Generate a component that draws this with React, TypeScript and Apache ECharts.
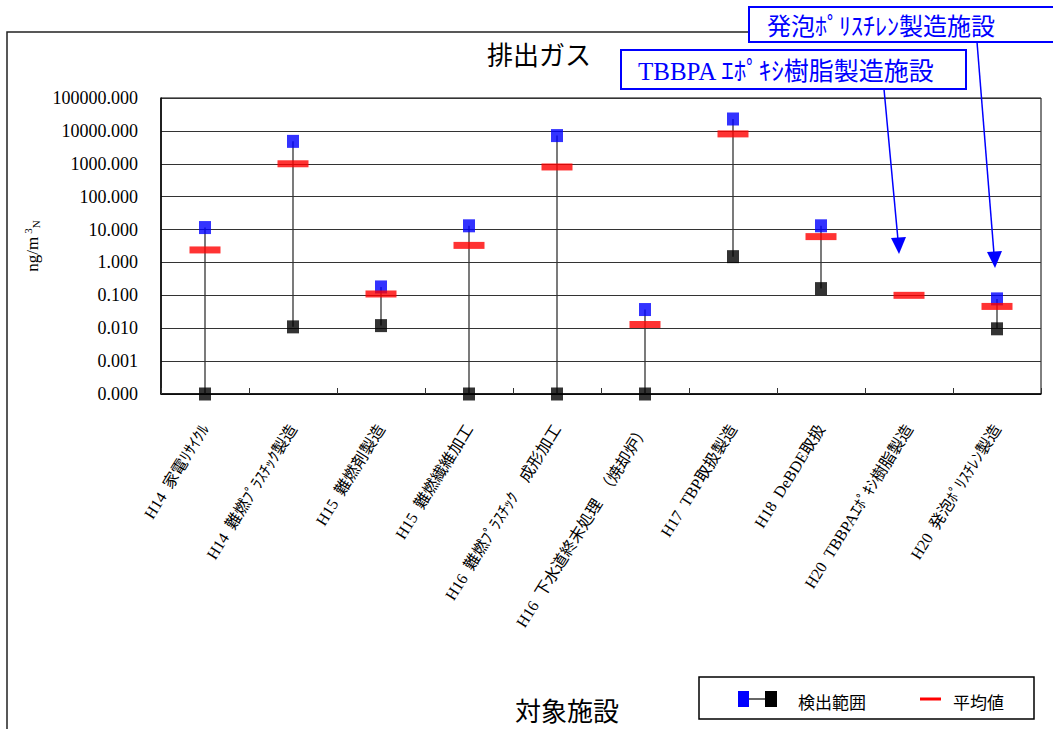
import React, { useEffect, useRef } from "react";
import * as echarts from "echarts";

// Facilities (x-axis categories)
const categories = [
  "H14\u2002家電ﾘｻｲｸﾙ",
  "H14\u2002難燃ﾌﾟﾗｽﾁｯｸ製造",
  "H15\u2002難燃剤製造",
  "H15\u2002難燃繊維加工",
  "H16\u2002難燃ﾌﾟﾗｽﾁｯｸ\u3000成形加工",
  "H16\u2002下水道終末処理\u3000（焼却炉）",
  "H17\u2002TBP取扱製造",
  "H18\u2002DeBDE取扱",
  "H20\u2002TBBPAｴﾎﾟｷｼ樹脂製造",
  "H20\u2002発泡ﾎﾟﾘｽﾁﾚﾝ製造",
];

// Exhaust gas concentrations, ng/m3N (null = no range reported)
const maxValues = [11.5, 4800, 0.18, 13, 7200, 0.037, 23000, 13, null, 0.078];
const meanValues = [2.4, 1000, 0.11, 3.3, 800, 0.013, 8100, 6.1, 0.1, 0.046];
const minValues = [0, 0.011, 0.012, 0, 0, 0, 1.5, 0.16, null, 0.0096];

// Log axis range; values of 0 sit on the axis floor
const Y_MIN = 0.0001;
const Y_MAX = 100000;

const TITLE = "排出ガス";
const X_NAME = "対象施設";
const LEGEND_RANGE = "検出範囲";
const LEGEND_MEAN = "平均値";
const NOTE_FOAM = "発泡ﾎﾟﾘｽﾁﾚﾝ製造施設";
const NOTE_TBBPA = "TBBPA ｴﾎﾟｷｼ樹脂製造施設";

const SERIF = "'Liberation Serif', 'Noto Sans CJK JP', serif";
const GOTHIC = "'Noto Sans CJK JP', sans-serif";
const BLUE = "#0000FF";

const floorValue = (v: number) => Math.max(v, Y_MIN);

export default function App() {
  const ref = useRef<HTMLDivElement>(null);

  useEffect(() => {
    if (!ref.current) return;
    const chart = echarts.init(ref.current, null, { renderer: "svg" });

    const rangeData = categories
      .map((_, i) =>
        minValues[i] == null || maxValues[i] == null
          ? null
          : [i, floorValue(minValues[i] as number), maxValues[i] as number]
      )
      .filter((d) => d !== null);
    const maxData = maxValues
      .map((v, i) => (v == null ? null : [i, v]))
      .filter((d) => d !== null);
    const minData = minValues
      .map((v, i) => (v == null ? null : [i, floorValue(v)]))
      .filter((d) => d !== null);
    const meanData = meanValues
      .map((v, i) => (v == null ? null : [i, v]))
      .filter((d) => d !== null);

    const option: any = {
      animation: false,
      backgroundColor: "#fff",
      title: {
        text: TITLE,
        left: 487,
        top: 40,
        padding: 0,
        textStyle: {
          fontSize: 26,
          fontWeight: "normal",
          fontFamily: GOTHIC,
          color: "#000",
        },
      },
      legend: { show: false },
      grid: {
        left: 161,
        top: 98,
        width: 880,
        height: 296,
        show: true,
        borderColor: "#000",
        borderWidth: 1,
        outerBoundsMode: "none",
        containLabel: false,
      },
      xAxis: {
        type: "category",
        data: categories,
        boundaryGap: true,
        name: X_NAME,
        nameLocation: "middle",
        nameGap: 302,
        nameTextStyle: {
          fontSize: 26,
          fontFamily: GOTHIC,
          color: "#000",
          padding: [0, 68, 0, 0],
        },
        axisLine: { show: true, lineStyle: { color: "#000", width: 1.5 } },
        axisTick: {
          show: true,
          inside: true,
          length: 6,
          lineStyle: { color: "#333" },
        },
        axisLabel: {
          rotate: 58,
          margin: 32,
          interval: 0,
          fontSize: 16,
          fontFamily: SERIF,
          color: "#000",
        },
        splitLine: { show: false },
      },
      yAxis: {
        type: "log",
        logBase: 10,
        min: Y_MIN,
        max: Y_MAX,
        splitNumber: 9,
        name: "ng/m{sup|3}{sub|N}",
        nameLocation: "middle",
        nameRotate: 90,
        nameGap: 105,
        nameTextStyle: {
          fontSize: 17,
          fontFamily: SERIF,
          color: "#000",
          rich: {
            sup: {
              fontSize: 11,
              fontFamily: SERIF,
              color: "#000",
              verticalAlign: "top",
              padding: [0, 0, 8, 3],
            },
            sub: {
              fontSize: 11,
              fontFamily: SERIF,
              color: "#000",
              verticalAlign: "bottom",
              padding: [6, 0, 0, 0],
            },
          },
        },
        axisLine: { show: true, lineStyle: { color: "#000", width: 1.5 } },
        axisTick: { show: false },
        axisLabel: {
          fontSize: 18,
          fontFamily: SERIF,
          color: "#000",
          margin: 23,
          formatter: (v: number) => v.toFixed(3),
        },
        splitLine: { show: true, lineStyle: { color: "#333", width: 1 } },
      },
      series: [
        {
          name: LEGEND_RANGE,
          type: "custom",
          z: 2,
          data: rangeData,
          encode: { x: 0, y: [1, 2] },
          renderItem: (params: any, api: any) => {
            const p1 = api.coord([api.value(0), api.value(1)]);
            const p2 = api.coord([api.value(0), api.value(2)]);
            return {
              type: "line",
              shape: { x1: p1[0], y1: p1[1], x2: p2[0], y2: p2[1] },
              style: { stroke: "#333", lineWidth: 1.3 },
            };
          },
        },
        {
          name: "max",
          type: "scatter",
          z: 3,
          clip: false,
          symbol: "rect",
          symbolSize: [12, 13],
          itemStyle: { color: BLUE },
          data: maxData,
        },
        {
          name: "min",
          type: "scatter",
          z: 3,
          clip: false,
          symbol: "rect",
          symbolSize: [12, 13],
          itemStyle: { color: "#000" },
          data: minData,
        },
        {
          name: LEGEND_MEAN,
          type: "scatter",
          z: 4,
          clip: false,
          symbol: "rect",
          symbolSize: [31, 7],
          itemStyle: { color: "#FF0000" },
          data: meanData,
        },
      ],
      graphic: [
        // outer chart frame
        {
          type: "rect",
          z: 0,
          silent: true,
          shape: { x: 7, y: 32, width: 1100, height: 800 },
          style: { fill: "none", stroke: "#222", lineWidth: 1.5 },
        },
        // callout: foamed polystyrene
        {
          type: "rect",
          z: 20,
          shape: { x: 749, y: 7, width: 320, height: 35 },
          style: { fill: "#fff", stroke: BLUE, lineWidth: 2 },
        },
        {
          type: "text",
          z: 21,
          x: 767,
          y: 27,
          style: {
            text: NOTE_FOAM,
            fontSize: 24,
            fontFamily: SERIF,
            fill: BLUE,
            verticalAlign: "middle",
          },
        },
        {
          type: "line",
          z: 20,
          shape: { x1: 977, y1: 42, x2: 994, y2: 254 },
          style: { stroke: BLUE, lineWidth: 1.5 },
        },
        {
          type: "polygon",
          z: 20,
          shape: {
            points: [
              [995, 268],
              [987, 252],
              [1002, 251],
            ],
          },
          style: { fill: BLUE },
        },
        // callout: TBBPA epoxy resin
        {
          type: "rect",
          z: 20,
          shape: { x: 621, y: 50, width: 345, height: 39 },
          style: { fill: "#fff", stroke: BLUE, lineWidth: 2 },
        },
        {
          type: "text",
          z: 21,
          x: 638,
          y: 71,
          style: {
            text: NOTE_TBBPA,
            fontSize: 25,
            fontFamily: SERIF,
            fill: BLUE,
            verticalAlign: "middle",
          },
        },
        {
          type: "line",
          z: 20,
          shape: { x1: 884, y1: 89, x2: 898, y2: 240 },
          style: { stroke: BLUE, lineWidth: 1.5 },
        },
        {
          type: "polygon",
          z: 20,
          shape: {
            points: [
              [899, 254],
              [891, 238],
              [906, 237],
            ],
          },
          style: { fill: BLUE },
        },
        // legend
        {
          type: "group",
          z: 20,
          children: [
            {
              type: "rect",
              shape: { x: 699, y: 677, width: 335, height: 42 },
              style: { fill: "#fff", stroke: "#000", lineWidth: 1.5 },
            },
            {
              type: "line",
              shape: { x1: 749, y1: 699, x2: 765, y2: 699 },
              style: { stroke: "#000", lineWidth: 1.2 },
            },
            {
              type: "rect",
              shape: { x: 738, y: 691, width: 11, height: 16 },
              style: { fill: BLUE },
            },
            {
              type: "rect",
              shape: { x: 765, y: 691, width: 12, height: 16 },
              style: { fill: "#000" },
            },
            {
              type: "text",
              x: 798,
              y: 701,
              style: {
                text: LEGEND_RANGE,
                fontSize: 17,
                fontFamily: GOTHIC,
                fill: "#000",
                verticalAlign: "middle",
              },
            },
            {
              type: "line",
              shape: { x1: 920, y1: 699, x2: 941, y2: 699 },
              style: { stroke: "#FF0000", lineWidth: 3 },
            },
            {
              type: "text",
              x: 953,
              y: 701,
              style: {
                text: LEGEND_MEAN,
                fontSize: 17,
                fontFamily: GOTHIC,
                fill: "#000",
                verticalAlign: "middle",
              },
            },
          ],
        },
      ],
    };

    chart.setOption(option);
    return () => chart.dispose();
  }, []);

  return (
    <div
      ref={ref}
      style={{ position: "absolute", left: 0, top: 0, width: 1053, height: 729 }}
    />
  );
}
